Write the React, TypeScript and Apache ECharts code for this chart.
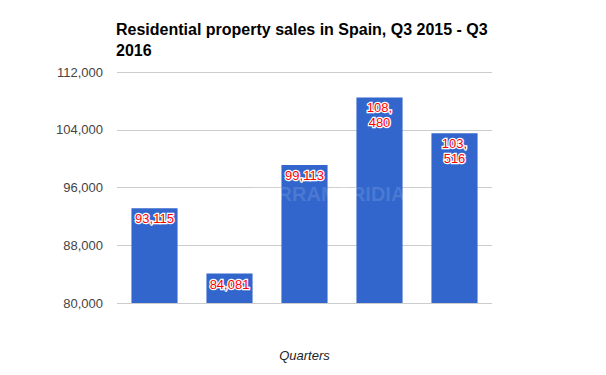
import React, { useEffect, useRef } from "react";
import * as echarts from "echarts";

const categories = ["Q3 2015", "Q4 2015", "Q1 2016", "Q2 2016", "Q3 2016"];
const sales = [93115, 84081, 99113, 108480, 103516];
const yMin = 80000;
const yMax = 112000;
const yInterval = 8000;

export default function App() {
  const ref = useRef<HTMLDivElement>(null);
  useEffect(() => {
    if (!ref.current) return;
    const chart = echarts.init(ref.current, null, { renderer: "svg" });
    const fmt = (v: number) => v.toLocaleString("en-US");
    chart.setOption({
      animation: false,
      backgroundColor: "#ffffff",
      title: {
        text: "Residential property sales in Spain, Q3 2015 - Q3\n2016",
        left: 111,
        top: 14,
        textStyle: {
          fontFamily: "Liberation Sans, Arial, sans-serif",
          fontWeight: "bold",
          fontSize: 16,
          color: "#000000",
          lineHeight: 21,
        },
      },
      grid: { left: 117, right: 114, top: 72, bottom: 72, containLabel: false },
      xAxis: {
        type: "category",
        data: categories,
        name: "Quarters",
        nameLocation: "middle",
        nameGap: 46,
        nameTextStyle: {
          fontFamily: "Liberation Sans, Arial, sans-serif",
          fontStyle: "italic",
          fontSize: 13,
          color: "#222222",
        },
        axisLine: { show: false },
        axisTick: { show: false },
        axisLabel: { show: false },
      },
      yAxis: {
        type: "value",
        min: yMin,
        max: yMax,
        interval: yInterval,
        axisLine: { show: false },
        axisTick: { show: false },
        axisLabel: {
          margin: 14,
          fontFamily: "Liberation Sans, Arial, sans-serif",
          fontSize: 13,
          color: "#444444",
          formatter: (v: number) => fmt(v),
        },
        splitLine: { lineStyle: { color: "#cccccc", width: 1 } },
      },
      graphic: [
        {
          type: "text",
          left: 252,
          top: 184,
          z: 100,
          style: {
            text: "TERRAMERIDIAL",
            fontFamily: "Liberation Sans, Arial, sans-serif",
            fontWeight: "bold",
            fontSize: 20,
            fill: "rgba(255,255,255,0.12)",
          },
        },
      ],
      series: [
        {
          type: "bar",
          data: sales,
          barWidth: "61.5%",
          itemStyle: { color: "#3366cc" },
          label: {
            show: true,
            position: "insideTop",
            distance: 3,
            fontFamily: "Liberation Sans, Arial, sans-serif",
            fontSize: 13,
            lineHeight: 15,
            color: "#ff0000",
            textBorderColor: "#ffffff",
            textBorderWidth: 2.5,
            formatter: (p: any) => {
              const s = fmt(p.value);
              return s.length > 6 ? s.replace(",", ",\n") : s;
            },
          },
        },
      ],
    });
    return () => chart.dispose();
  }, []);
  return (
    <div
      ref={ref}
      style={{ position: "fixed", left: 0, top: 0, width: 606, height: 375 }}
    />
  );
}
